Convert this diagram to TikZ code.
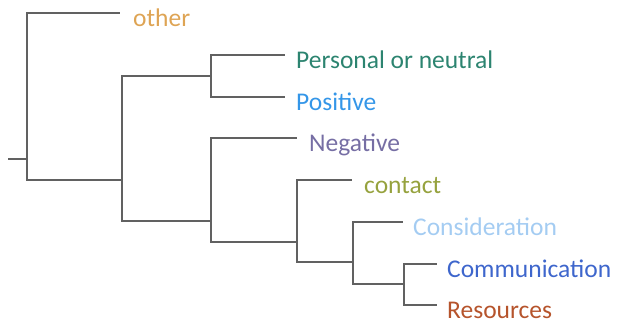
\documentclass[tikz,border=0pt]{standalone}
\usepackage{fontspec}
\setmainfont{Carlito}
\usepackage{tikz}
\usetikzlibrary{positioning}

\definecolor{otherc}{RGB}{222,164,84}
\definecolor{persc}{RGB}{44,132,112}
\definecolor{posc}{RGB}{52,150,232}
\definecolor{negc}{RGB}{118,110,164}
\definecolor{contc}{RGB}{150,162,62}
\definecolor{consc}{RGB}{164,204,242}
\definecolor{commc}{RGB}{62,102,204}
\definecolor{resc}{RGB}{182,84,44}

\begin{document}
\begin{tikzpicture}[x=1pt, y=-1pt,
branch/.style={draw=black!62, line width=2.3pt},
leaf/.style={inner sep=0pt, anchor=west, text height=19pt, text depth=6pt, font=\fontsize{25.5}{30}\selectfont}
]
\useasboundingbox (0,0) rectangle (617,325);
%Joints
\coordinate (root) at (8,159);
\coordinate (a0)   at (27,159);
\coordinate (a1)   at (122,180);
\coordinate (a2)   at (211,76);
\coordinate (a3)   at (211,221);
\coordinate (a4)   at (297,242);
\coordinate (a5)   at (353,262);
\coordinate (a6)   at (404,284);
%Tips
\coordinate (tOth) at (120,13);
\coordinate (tPer) at (285,55);
\coordinate (tPos) at (285,97);
\coordinate (tNeg) at (297,138);
\coordinate (tCon) at (352,180);
\coordinate (tCns) at (403,222);
\coordinate (tCom) at (437,264);
\coordinate (tRes) at (437,305);
%Labels
\node[leaf, text=otherc] (other) [right=13pt of tOth, yshift=-7pt] {other};
\node[leaf, text=persc]  (pers)  [right=11pt of tPer, yshift=-7pt] {Personal or neutral};
\node[leaf, text=posc]   (pos)   [right=11pt of tPos, yshift=-7pt] {Positive};
\node[leaf, text=negc]   (neg)   [right=12pt of tNeg, yshift=-7pt] {Negative};
\node[leaf, text=contc]  (cont)  [right=12pt of tCon, yshift=-7pt] {contact};
\node[leaf, text=consc]  (cons)  [right=10pt of tCns, yshift=-7pt] {Consideration};
\node[leaf, text=commc]  (comm)  [right=10pt of tCom, yshift=-7pt] {Communication};
\node[leaf, text=resc]   (res)   [right=10pt of tRes, yshift=-7pt] {Resources};
%Lines
\draw[branch] (root) -- (a0);
\draw[branch] (a0) |- (tOth);
\draw[branch] (a0) |- (a1);
\draw[branch] (a1) |- (a2);
\draw[branch] (a1) |- (a3);
\draw[branch] (a2) |- (tPer);
\draw[branch] (a2) |- (tPos);
\draw[branch] (a3) |- (tNeg);
\draw[branch] (a3) |- (a4);
\draw[branch] (a4) |- (tCon);
\draw[branch] (a4) |- (a5);
\draw[branch] (a5) |- (tCns);
\draw[branch] (a5) |- (a6);
\draw[branch] (a6) |- (tCom);
\draw[branch] (a6) |- (tRes);
\end{tikzpicture}
\end{document}
